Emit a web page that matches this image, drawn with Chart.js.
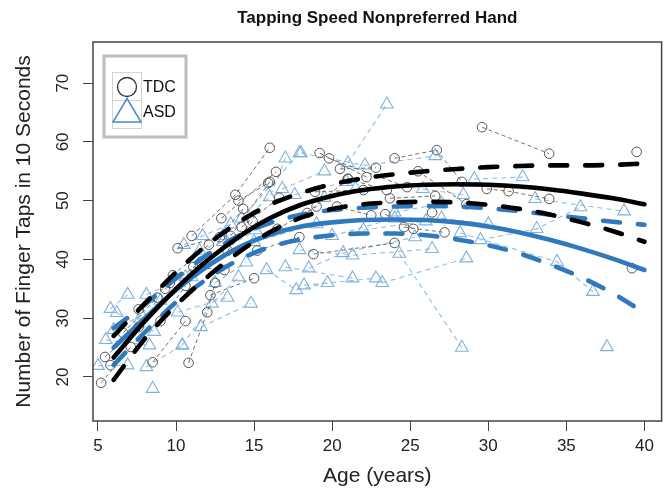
<!DOCTYPE html>
<html><head><meta charset="utf-8">
<script src="https://cdn.jsdelivr.net/npm/chart.js@4.4.1/dist/chart.umd.min.js"></script>
<style>html,body{margin:0;padding:0;background:#fff}#wrap{width:670px;height:489px}</style>
</head><body><div id="wrap"><canvas id="c" width="670" height="489"></canvas></div>
<script>
const xTicks = [5, 10, 15, 20, 25, 30, 35, 40];
const yTicks = [20, 30, 40, 50, 60, 70];
const curveAges = [6, 8, 10, 12, 14, 16, 18, 20, 22, 24, 26, 28, 30, 32, 34, 36, 38, 40];
const tdcMean  = [23.3, 29.5, 35.0, 39.8, 43.8, 47.0, 49.3, 50.8, 51.8, 52.4, 52.7, 52.8, 52.7, 52.4, 51.9, 51.2, 50.4, 49.4];
const tdcUpper = [27.0, 32.5, 37.8, 42.5, 46.3, 49.3, 51.3, 52.8, 53.8, 54.5, 55.0, 55.4, 55.7, 55.9, 56.0, 56.0, 56.1, 56.3];
const tdcLower = [19.5, 26.5, 32.2, 37.0, 41.2, 44.6, 47.1, 48.6, 49.4, 49.7, 49.8, 49.7, 49.3, 48.6, 47.6, 46.3, 44.8, 43.0];
const asdMean  = [25.0, 30.0, 34.8, 38.8, 42.0, 44.2, 45.6, 46.3, 46.7, 46.8, 46.7, 46.3, 45.6, 44.6, 43.3, 41.8, 40.1, 38.2];
const asdUpper = [28.3, 32.3, 36.8, 40.8, 44.0, 46.2, 47.6, 48.4, 48.8, 49.0, 49.1, 49.0, 48.7, 48.2, 47.6, 47.0, 46.4, 45.9];
const asdLower = [22.0, 27.6, 32.7, 36.7, 39.9, 42.1, 43.4, 44.1, 44.4, 44.4, 44.1, 43.4, 42.4, 41.0, 39.1, 36.9, 34.2, 30.9];

const tdcAge = [[5.2,7.1],[5.45,7.6],[5.8],[8.5,10.6],[10.8,12.0,12.5],[9.3,11.6],[9.8,12.1],[10.1,12.8,14.3],
  [11.0,13.8,16.0],[12.9,16.4],[12.2,15.0],[11.1,13.1],[13.5,16.0],[14.2,16.6],[15.2,17.9],[18.4,21.0],[18.8,24.0],
  [19.2,22.2],[19.8,24.8],[20.5,22.8],[24.0,26.7,28.3],[25.5,28.6],[18.9,22.0],[23.7,26.6],[23.4,25.2],[24.6,27.2],
  [29.6,33.9],[39.5],[29.9,31.3,33.9],[39.2],[16.5,19.0],[21.0,23.5],[14.0,15.9],[7.6,9.6],[6.6,8.8],[13.3,14.9],
  [20.3,22.5],[26.4],[9.0,10.6]];
const tdcTaps = [[19.0,25.1],[23.4,28.5],[22.0],[22.5,29.5],[22.4,31.0,36.0],[35.0,39.6],[37.3,42.5],[41.9,43.8,48.6],
  [44.0,51.0,59.0],[47.0,54.9],[33.9,36.8],[38.7,38.2],[44.0,53.2],[45.5,50.5],[41.5,43.8],[47.9,53.7],[40.9,42.8],
  [58.1,54.0],[57.2,52.3],[55.4,55.6],[57.2,58.6,53.2],[55.0,49.4],[51.5,51.8],[50.4,50.8],[47.7,45.2],[45.5,44.6],
  [62.5,58.0],[58.3],[52.0,51.6,50.3],[38.5],[45.2,49.0],[53.7,51.8],[50.0,53.0],[31.5,36.0],[27.5,33.5],[41.5,46.5],
  [49.0,47.5],[48.0],[29.5,35.5]];

const asdAge = [[5.0,6.9],[8.1,10.4],[8.5],[5.5,8.3],[5.8,6.9],[6.2,8.6],[8.1,10.6],[10.1,13.3],[11.6,14.8],
  [10.4,12.3,14.0],[10.5,11.7,13.5],[12.0,15.1],[13.0,16.0,17.0],[14.2,17.9],[16.8,19.5],[17.6,20.9],[15.8,17.7,19.7],
  [17.0,21.3],[17.9,21.3,26.4],[18.2,22.8],[23.2,28.6],[18.5,20.7,25.3],[21.0,23.5],[18.0,22.1,26.6],[24.3,28.3],
  [29.1,32.2],[29.5,33.1,35.9],[33.0,38.7],[28.2,34.4,36.7],[37.6],[15.0,19.0],[20.0,24.0],[22.0,26.0],[27.0,30.0],
  [24.0,27.0],[12.5,14.5],[9.0,11.0],[11.5,13.0],[6.0,7.8],[19.5,21.5],[25.8,28.4]];
const asdTaps = [[21.9,22.0],[21.7,25.4],[18.0],[26.3,25.4],[31.6,34.0],[30.9,27.7],[34.0,37.0],[31.0,33.5],[28.5,32.5],
  [25.4,32.5,37.0],[42.5,44.0,46.0],[40.0,45.0],[44.0,50.6,57.2],[47.0,58.1],[52.0,55.0],[51.0,53.2],[38.2,34.8,36.0],
  [38.7,36.8],[41.6,40.7,41.8],[35.6,36.8],[36.0,40.2],[38.5,41.1,43.8],[56.4,66.4],[58.1,56.0,57.6],[41.0,25.0],
  [53.7,54.0],[43.3,45.2,48.9],[50.3,48.2],[44.5,39.6,34.5],[25.1],[43.0,46.0],[44.0,47.0],[45.0,46.5],[47.0,46.0],
  [48.0,49.5],[36.0,39.5],[33.0,37.0],[41.5,43.0],[28.0,30.5],[50.5,52.0],[52.0,51.0]];

const FONT = "'Liberation Sans', Arial, Helvetica, sans-serif";
const BLACK = '#000000', BLUE = '#3079bd';
const TRI = '#7fb2e0', TRI_LINE = '#8fbde6', CIRC = '#555555', CIRC_LINE = '#707070';

function pts(xs, ys) { return xs.map((x, i) => ({ x: x, y: ys[i] })); }

function curve(vals, color, dashed) {
  return {
    type: 'line', data: pts(curveAges, vals), borderColor: color, borderWidth: 4.6,
    borderDash: dashed ? [17, 18] : [], borderCapStyle: 'round', borderJoinStyle: 'round',
    cubicInterpolationMode: 'monotone', pointRadius: 0, fill: false, showLine: true
  };
}

const datasets = [
  curve(tdcMean, BLACK, false), curve(tdcUpper, BLACK, true), curve(tdcLower, BLACK, true),
  curve(asdMean, BLUE, false), curve(asdUpper, BLUE, true), curve(asdLower, BLUE, true)
];
tdcAge.forEach((a, i) => datasets.push({
  data: pts(a, tdcTaps[i]), showLine: true, borderColor: CIRC_LINE, borderWidth: 1, borderDash: [4, 3],
  pointStyle: 'circle', pointRadius: 4.8, pointBorderColor: CIRC, pointBackgroundColor: 'rgba(0,0,0,0)', pointBorderWidth: 1
}));
asdAge.forEach((a, i) => datasets.push({
  data: pts(a, asdTaps[i]), showLine: true, borderColor: TRI_LINE, borderWidth: 1.1, borderDash: [5, 4],
  pointStyle: 'triangle', pointRadius: 7.3, pointBorderColor: TRI, pointBackgroundColor: 'rgba(0,0,0,0)', pointBorderWidth: 1.1
}));

const framePlugin = {
  id: 'frameLegend',
  afterDraw(chart) {
    const ctx = chart.ctx, a = chart.chartArea;
    ctx.save();
    ctx.strokeStyle = '#444'; ctx.lineWidth = 1.5;
    ctx.strokeRect(a.left, a.top, a.right - a.left, a.bottom - a.top);
    // legend
    ctx.fillStyle = '#fff';
    ctx.fillRect(104, 56, 82, 81);
    ctx.strokeStyle = '#bdbdbd'; ctx.lineWidth = 3;
    ctx.strokeRect(104, 56, 82, 81);
    ctx.strokeStyle = '#d4d4d4'; ctx.lineWidth = 1;
    ctx.strokeRect(112.5, 72.5, 29, 28);
    ctx.strokeRect(112.5, 100.5, 29, 28);
    ctx.strokeStyle = '#333'; ctx.lineWidth = 1.3;
    ctx.beginPath(); ctx.arc(127, 87, 9.5, 0, Math.PI * 2); ctx.stroke();
    ctx.strokeStyle = '#4a8cc9'; ctx.lineWidth = 1.5;
    ctx.beginPath(); ctx.moveTo(127, 98.5); ctx.lineTo(113, 122); ctx.lineTo(141, 122); ctx.closePath(); ctx.stroke();
    ctx.fillStyle = '#111'; ctx.font = '16px ' + FONT; ctx.textBaseline = 'middle'; ctx.textAlign = 'left';
    ctx.fillText('TDC', 143, 88);
    ctx.fillText('ASD', 143, 113);
    ctx.restore();
  }
};

new Chart(document.getElementById('c'), {
  type: 'scatter',
  data: { datasets: datasets },
  options: {
    responsive: false, animation: false, devicePixelRatio: 1,
    layout: { padding: { left: 0, right: 8, top: 0, bottom: 0 } },
    plugins: {
      legend: { display: false }, tooltip: { enabled: false },
      title: { display: true, text: 'Tapping Speed Nonpreferred Hand', fullSize: false, color: '#111',
        font: { family: FONT, size: 17, weight: 'bold' }, padding: { top: 8, bottom: 13.6 } }
    },
    scales: {
      x: {
        type: 'linear', min: 4.68, max: 41.1,
        afterBuildTicks: s => { s.ticks = xTicks.map(v => ({ value: v })); },
        afterFit: s => { s.height = 68; },
        grid: { drawOnChartArea: false, drawTicks: true, tickLength: 10, color: '#444', lineWidth: 1 },
        border: { display: false },
        ticks: { font: { family: FONT, size: 17 }, color: '#222', padding: 5, maxRotation: 0, autoSkip: false },
        title: { display: true, text: 'Age (years)', color: '#222', font: { family: FONT, size: 21 }, padding: { top: 0, bottom: 0 } }
      },
      y: {
        type: 'linear', min: 12.5, max: 77,
        afterBuildTicks: s => { s.ticks = yTicks.map(v => ({ value: v })); },
        afterFit: s => { s.width = 93; },
        grid: { drawOnChartArea: false, drawTicks: true, tickLength: 10, color: '#444', lineWidth: 1 },
        border: { display: false },
        ticks: { font: { family: FONT, size: 17 }, color: '#222', padding: 10, minRotation: 90, maxRotation: 90, crossAlign: 'center', autoSkip: false },
        title: { display: true, text: 'Number of Finger Taps in 10 Seconds', color: '#222', font: { family: FONT, size: 21 }, padding: { top: 12, bottom: 0 } }
      }
    }
  },
  plugins: [framePlugin]
});
</script></body></html>
